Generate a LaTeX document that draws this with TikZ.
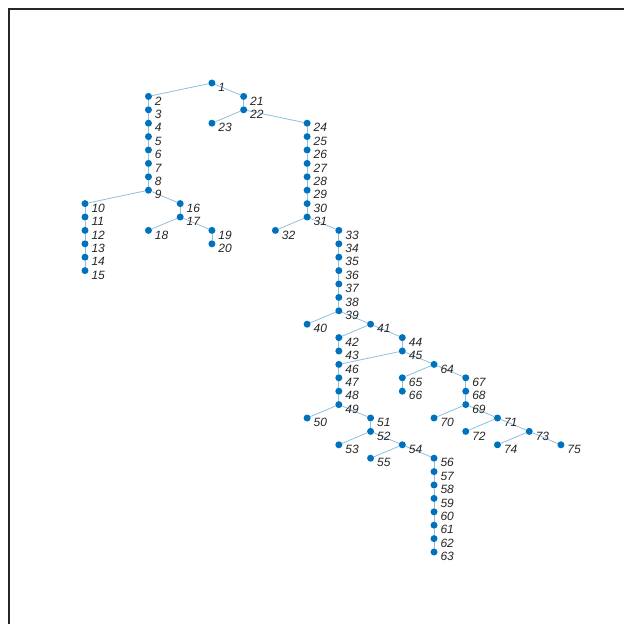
\documentclass[tikz,border=0pt]{standalone}
\usepackage{fontspec}
\setmainfont{Liberation Sans}
\usepackage{xcolor}
\usepackage{tikz}
\usetikzlibrary{backgrounds}
\definecolor{mblue}{RGB}{0,114,189}
\definecolor{axgray}{RGB}{38,38,38}

\begin{document}
\begin{tikzpicture}[x=31.73pt, y=-13.4pt, font=\fontsize{12}{12}\selectfont\itshape,
  bus/.style={circle, fill=mblue, inner sep=0pt, outer sep=0pt, minimum size=7pt},
  lbl/.style={anchor=west, xshift=-0.5pt, yshift=-4.5pt, text=black!85},
  br/.style={draw=mblue!45!white, line width=0.8pt}]
\useasboundingbox (-85pt,83pt) rectangle (539pt,-541pt);
% axes frame (cut off at right and bottom)
\draw[axgray, line width=1.1pt] (-76pt,-541pt) -- (-76pt,74pt) -- (539pt,74pt);
% buses: number / column / layer
\foreach \n/\c/\l in {1/4/0, 2/2/1, 3/2/2, 4/2/3, 5/2/4, 6/2/5, 7/2/6, 8/2/7, 9/2/8,
    10/0/9, 11/0/10, 12/0/11, 13/0/12, 14/0/13, 15/0/14,
    16/3/9, 17/3/10, 18/2/11, 19/4/11, 20/4/12,
    21/5/1, 22/5/2, 23/4/3, 24/7/3, 25/7/4, 26/7/5, 27/7/6, 28/7/7, 29/7/8, 30/7/9, 31/7/10,
    32/6/11, 33/8/11, 34/8/12, 35/8/13, 36/8/14, 37/8/15, 38/8/16, 39/8/17,
    40/7/18, 41/9/18, 42/8/19, 43/8/20, 44/10/19, 45/10/20,
    46/8/21, 47/8/22, 48/8/23, 49/8/24,
    50/7/25, 51/9/25, 52/9/26, 53/8/27, 54/10/27, 55/9/28,
    56/11/28, 57/11/29, 58/11/30, 59/11/31, 60/11/32, 61/11/33, 62/11/34, 63/11/35,
    64/11/21, 65/10/22, 66/10/23, 67/12/22, 68/12/23, 69/12/24,
    70/11/25, 71/13/25, 72/12/26, 73/14/26, 74/13/27, 75/15/27}
  \node[bus, label={[lbl]0:\n}] (b\n) at (\c,\l) {};
% branches
\begin{scope}[on background layer]
\foreach \a/\b in {1/2, 2/3, 3/4, 4/5, 5/6, 6/7, 7/8, 8/9, 9/10, 10/11, 11/12, 12/13, 13/14, 14/15,
    9/16, 16/17, 17/18, 17/19, 19/20, 1/21, 21/22, 22/23, 22/24,
    24/25, 25/26, 26/27, 27/28, 28/29, 29/30, 30/31, 31/32, 31/33,
    33/34, 34/35, 35/36, 36/37, 37/38, 38/39, 39/40, 39/41, 41/42, 42/43, 41/44, 44/45,
    45/46, 46/47, 47/48, 48/49, 49/50, 49/51, 51/52, 52/53, 52/54, 54/55, 54/56,
    56/57, 57/58, 58/59, 59/60, 60/61, 61/62, 62/63,
    45/64, 64/65, 65/66, 64/67, 67/68, 68/69, 69/70, 69/71, 71/72, 71/73, 73/74, 73/75}
  \draw[br] (b\a) -- (b\b);
\end{scope}
\end{tikzpicture}
\end{document}
